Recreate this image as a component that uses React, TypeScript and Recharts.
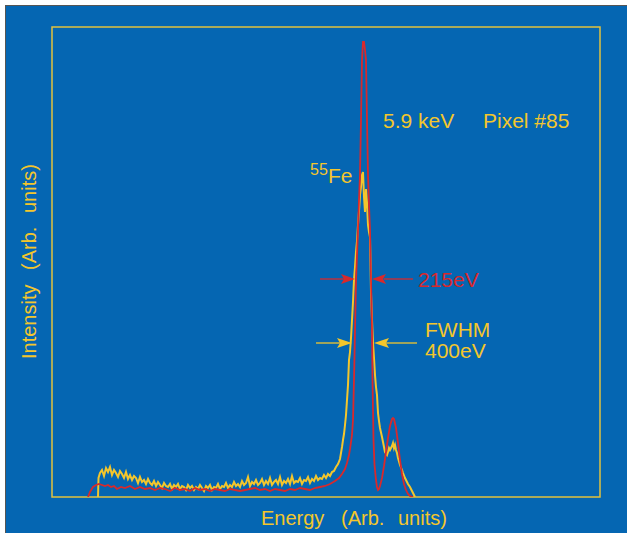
import React from 'react'
import { LineChart, Line, XAxis, YAxis, ReferenceArea } from 'recharts'

// energy channel (arb.) and intensity (arb.)
const yellowEnergy = [
  46, 46.5, 48, 50, 52, 54, 56, 58, 60, 62, 64, 66, 68, 70, 72, 74, 76, 78, 80, 82, 84, 86, 88, 90, 92, 94, 96, 98,
  100, 102, 104, 106, 108, 110, 112, 114, 116, 118, 120, 122, 124, 126, 128, 130, 132, 134, 136, 138, 140, 142, 144,
  146, 148, 150, 152, 154, 156, 158, 160, 162, 164, 166, 168, 170, 172, 174, 176, 178, 180, 182, 184, 186, 188, 190,
  192, 194, 196, 198, 200, 202, 204, 206, 208, 210, 212, 214, 216, 218, 220, 222, 224, 226, 228, 230, 232, 234, 236,
  238, 240, 242, 244, 246, 248, 250, 252, 254, 256, 258, 260, 262, 264, 266, 268, 270, 272, 274, 276, 278, 280, 282,
  284, 286, 288, 289, 290, 291, 292, 293, 294, 295, 296, 297, 298, 299, 300, 301, 302, 303, 304, 305, 306, 307, 308,
  309, 310, 311, 312, 313, 314, 315, 316, 317, 318, 318.5, 319, 320, 321, 322, 323, 324, 325, 326, 327, 328, 330, 331,
  333, 335, 336, 337, 338, 340, 341, 342, 343, 344, 345, 346, 348, 350, 351, 353, 354, 356, 358, 360, 361, 363,
]
const yellowCounts = [
  0, 19, 24, 27, 21, 29, 25, 30, 22, 27, 24, 20, 26, 23, 19, 25, 18, 22, 17, 21, 19, 14, 20, 15, 17, 13, 18, 14,
  12, 16, 11, 15, 12, 9, 14, 11, 10, 13, 8, 12, 10, 13, 8, 11, 10, 7, 12, 9, 11, 7, 10,
  8, 12, 9, 6, 11, 9, 12, 7, 10, 9, 13, 8, 11, 10, 14, 9, 12, 10, 15, 11, 13, 10, 16,
  12, 14, 20, 11, 15, 13, 17, 12, 14, 18, 12, 16, 13, 19, 12, 15, 17, 13, 20, 12, 16, 14, 18,
  13, 21, 14, 16, 15, 19, 13, 17, 16, 20, 14, 18, 16, 21, 17, 19, 18, 22, 19, 23, 21, 25, 26,
  30, 33, 38, 44, 50, 57, 63, 72, 82, 97, 112, 137, 145, 159, 177, 195, 217, 230, 245, 256, 272, 286, 302,
  310, 322, 325, 300, 285, 308, 294, 272, 265, 260, 235, 205, 177, 154, 139, 122, 110, 102, 84, 76, 69, 60, 55,
  45, 42, 45, 49, 47, 51, 54, 49, 52, 47, 44, 39, 32, 27, 24, 19, 17, 13, 10, 6, 4, 0,
]

const redEnergy = [
  36, 38, 41, 44, 47, 50, 53, 56, 59, 62, 65, 69, 73, 78, 83, 88, 93, 98, 103, 108, 113, 118, 123, 128, 133, 138,
  143, 148, 153, 158, 163, 168, 173, 178, 183, 188, 193, 198, 203, 208, 213, 218, 223, 228, 233, 238, 243, 248, 253,
  258, 263, 268, 273, 278, 283, 287, 290, 293, 295, 297, 298, 299, 300, 301, 301.5, 302, 302.5, 303, 304, 305, 306,
  307, 308, 309, 310, 311, 312, 313, 314, 315, 316, 317, 318, 319, 320, 320.5, 321, 321.5, 322.5, 324, 325, 326, 327,
  328, 330, 332, 334, 336, 338, 340, 341, 342, 344, 346, 348, 350, 352, 354, 356, 358, 361,
]
const redCounts = [
  0, 5, 10, 12, 13, 12, 11, 12, 10, 11, 8, 10, 9, 11, 8, 10, 8, 9, 7, 9, 8, 6, 9, 7, 8, 6,
  9, 7, 8, 6, 8, 7, 6, 8, 7, 6, 7, 8, 9, 7, 8, 6, 8, 7, 6, 8, 7, 9, 8,
  7, 9, 10, 11, 13, 16, 19, 23, 28, 34, 42, 48, 55, 62, 77, 97, 117, 142, 167, 217, 242, 267,
  297, 322, 377, 437, 455, 455, 447, 437, 377, 322, 292, 267, 217, 167, 117, 87, 57, 32, 17, 10, 7, 8,
  11, 19, 31, 45, 59, 71, 78, 79, 78, 69, 54, 37, 23, 13, 7, 3, 1, 0,
]

const yellowData = yellowEnergy.map((e, i) => ({ e, c: yellowCounts[i] }))
const redData = redEnergy.map((e, i) => ({ e, c: redCounts[i] }))

const BLUE = '#0566b2'
const YELLOW = '#f4c62c'
const RED = '#d8292c'
const FONT = '"Liberation Sans", Arial, Helvetica, sans-serif'

export default function App() {
  return (
    <div style={{ position: 'absolute', left: 0, top: 0, width: 627, height: 533, background: '#fff', overflow: 'hidden' }}>
      <div
        style={{
          position: 'absolute',
          left: 5,
          top: 5,
          width: 640,
          height: 540,
          background: BLUE,
          borderLeft: '1px solid #555',
          borderTop: '1px solid #555',
        }}
      />
      <div style={{ position: 'absolute', left: 0, top: 0 }}>
        <LineChart width={627} height={533} margin={{ top: 27, right: 27, bottom: 36, left: 52 }}>
          <XAxis type="number" dataKey="e" domain={[0, 548]} hide allowDataOverflow />
          <YAxis type="number" domain={[0, 470]} hide allowDataOverflow />
          <ReferenceArea x1={0} x2={548} y1={0} y2={470} fill="none" stroke="#e2c23e" strokeWidth={1.5} ifOverflow="visible" />
          <Line data={yellowData} dataKey="c" type="linear" stroke={YELLOW} strokeWidth={2} dot={false} isAnimationActive={false} />
          <Line data={redData} dataKey="c" type="linear" stroke={RED} strokeWidth={1.8} dot={false} isAnimationActive={false} />
        </LineChart>
      </div>
      <svg width={627} height={533} style={{ position: 'absolute', left: 0, top: 0, pointerEvents: 'none' }} fontFamily={FONT}>
        <text x={383} y={128} fontSize={21} fill={YELLOW}>5.9 keV</text>
        <text x={483} y={128} fontSize={21} fill={YELLOW}>Pixel #85</text>
        <text x={310} y={175} fontSize={16} fill={YELLOW}>55</text>
        <text x={328} y={183} fontSize={21} fill={YELLOW}>Fe</text>

        <line x1={320} y1={279} x2={344} y2={279} stroke={RED} strokeWidth={1.3} />
        <polygon points="355,279 341,274 344,279 341,284" fill={RED} />
        <line x1={384} y1={279} x2={413} y2={279} stroke={RED} strokeWidth={1.3} />
        <polygon points="372,279 386,274 383,279 386,284" fill={RED} />
        <text x={418} y={287} fontSize={21} fill={RED}>215eV</text>

        <line x1={316} y1={343} x2={341} y2={343} stroke={YELLOW} strokeWidth={1.3} />
        <polygon points="352,343 337,338 340,343 337,348" fill={YELLOW} />
        <line x1={386} y1={343} x2={417} y2={343} stroke={YELLOW} strokeWidth={1.3} />
        <polygon points="374,343 389,338 386,343 389,348" fill={YELLOW} />
        <text x={425} y={337} fontSize={21} fill={YELLOW}>FWHM</text>
        <text x={425} y={358} fontSize={21} fill={YELLOW}>400eV</text>

        <text x={261} y={525} fontSize={20} fill={YELLOW}>Energy</text>
        <text x={341} y={525} fontSize={20} fill={YELLOW}>(Arb.</text>
        <text x={398} y={525} fontSize={20} fill={YELLOW}>units)</text>

        <g transform="translate(36, 359) rotate(-90)">
          <text x={0} y={0} fontSize={20} fill={YELLOW}>Intensity</text>
          <text x={89} y={0} fontSize={20} fill={YELLOW}>(Arb.</text>
          <text x={146} y={0} fontSize={20} fill={YELLOW}>units)</text>
        </g>
      </svg>
    </div>
  )
}
